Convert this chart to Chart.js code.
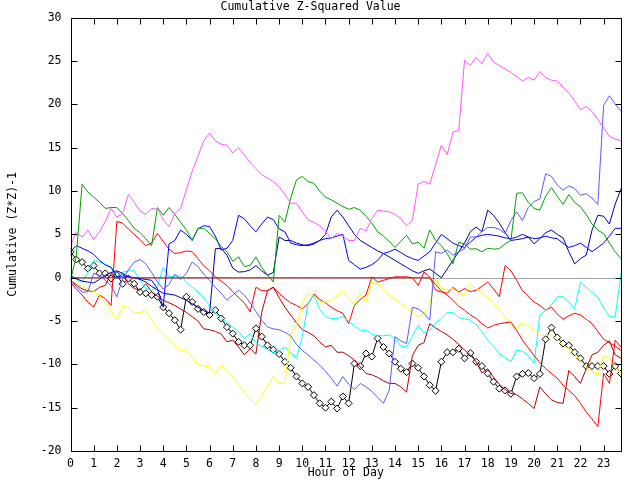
<!DOCTYPE html>
<html>
<head>
<meta charset="utf-8">
<title>Cumulative Z-Squared Value</title>
<script src="https://cdn.jsdelivr.net/npm/chart.js@4.4.1/dist/chart.umd.min.js"></script>
<style>
  html, body { margin: 0; padding: 0; background: #ffffff; }
  #chart { display: block; }
</style>
</head>
<body>
<canvas id="chart" width="640" height="480"></canvas>
<script>
// every series is sampled every 15 minutes
const HOURS = [0, 0.25, 0.5, 0.75, 1, 1.25, 1.5, 1.75, 2, 2.25, 2.5, 2.75, 3, 3.25, 3.5, 3.75,
    4, 4.25, 4.5, 4.75, 5, 5.25, 5.5, 5.75, 6, 6.25, 6.5, 6.75, 7, 7.25, 7.5, 7.75,
    8, 8.25, 8.5, 8.75, 9, 9.25, 9.5, 9.75, 10, 10.25, 10.5, 10.75, 11, 11.25, 11.5, 11.75,
    12, 12.25, 12.5, 12.75, 13, 13.25, 13.5, 13.75, 14, 14.25, 14.5, 14.75, 15, 15.25, 15.5, 15.75,
    16, 16.25, 16.5, 16.75, 17, 17.25, 17.5, 17.75, 18, 18.25, 18.5, 18.75, 19, 19.25, 19.5, 19.75,
    20, 20.25, 20.5, 20.75, 21, 21.25, 21.5, 21.75, 22, 22.25, 22.5, 22.75, 23, 23.25, 23.5, 23.75];

const X_TICKS = [0, 1, 2, 3, 4, 5, 6, 7, 8, 9, 10, 11, 12, 13, 14, 15, 16, 17, 18, 19, 20, 21, 22, 23];
const Y_TICKS = [-20, -15, -10, -5, 0, 5, 10, 15, 20, 25, 30];

const magenta = [3.7, 5.3, 4.7, 5.5, 4.4, 5.3, 6.5, 8.0, 7.0, 7.4, 9.6, 8.7, 7.7, 7.3, 8.0, 7.9,
    6.7, 5.9, 7.4, 8.0, 10.2, 12.3, 14.0, 15.8, 16.7, 15.8, 15.4, 15.3, 14.4, 15.0, 14.2, 13.3,
    12.6, 11.9, 11.5, 11.1, 10.5, 9.6, 8.6, 8.6, 7.6, 6.7, 6.4, 6.0, 5.4, 4.5, 5.1, 4.8,
    4.3, 4.3, 5.7, 5.4, 6.8, 7.8, 7.7, 7.6, 7.3, 6.8, 6.0, 6.6, 10.8, 11.1, 10.8, 13.0,
    15.3, 14.2, 16.8, 17.0, 25.1, 24.5, 25.4, 24.7, 25.9, 24.9, 24.5, 24.1, 23.7, 23.2, 22.7, 23.1,
    22.8, 23.8, 23.1, 22.8, 22.7, 22.0, 21.3, 20.4, 19.4, 19.75, 19.2, 18.3, 17.3, 16.3, 16.0, 15.8];
const green = [-0.3, 2.5, 10.8, 9.9, 9.3, 8.7, 8.0, 8.1, 8.1, 7.4, 6.6, 5.7, 5.2, 4.5, 3.7, 8.1,
    7.2, 8.1, 7.3, 6.4, 5.5, 4.3, 5.7, 5.7, 5.1, 4.5, 3.6, 3.0, 1.9, 2.4, 1.3, 1.4,
    2.4, 1.2, 0.3, -0.5, 7.2, 6.4, 9.2, 11.3, 11.7, 11.1, 10.9, 10.0, 9.3, 9.0, 8.6, 8.2,
    7.9, 8.1, 7.8, 7.1, 6.3, 5.3, 4.8, 4.2, 3.5, 4.2, 4.9, 3.9, 4.1, 3.4, 5.5, 4.3,
    3.7, 2.8, 1.6, 4.1, 3.9, 3.3, 3.35, 3.0, 3.4, 3.3, 3.35, 3.9, 4.3, 9.75, 9.8, 8.7,
    8.0, 7.8, 9.4, 10.4, 9.4, 8.45, 9.6, 8.7, 8.2, 7.3, 6.2, 5.5, 5.1, 4.0, 3.0, 2.2];
const periwinkle = [-0.3, -1.0, -1.65, -1.65, 0.5, 0.3, -0.3, -0.9, -2.2, -0.1, 0.9, 1.8, 2.1, 1.6, 0.6, -0.5,
    -1.3, -0.8, 0.4, -0.2, 0.5, 1.8, 1.3, 0.4, -0.3, -1.1, -1.8, -2.6, -2.0, -1.45, -2.0, -2.9,
    -3.9, -4.9, -5.7, -5.9, -6.0, -6.3, -6.7, -7.7, -8.4, -8.9, -9.5, -10.1, -10.8, -11.6, -12.5, -11.4,
    -12.3, -12.9, -12.2, -12.6, -13.1, -13.8, -14.5, -13.0, -6.8, -7.3, -7.6, -3.4, -3.6, -4.1, -4.9, 3.0,
    2.8, 3.2, 2.6, 3.0, 3.35, 4.7, 4.7, 5.3, 5.8, 5.8, 5.6, 5.1, 6.6, 7.6, 6.6, 8.1,
    8.8, 9.1, 12.0, 11.7, 10.7, 10.1, 10.6, 10.3, 9.5, 9.7, 9.2, 8.45, 19.9, 21.0, 20.05, 19.2];
const blue = [3.0, 3.7, 3.4, 3.1, 2.7, 2.0, 1.5, 1.2, 0.1, 0.2, 0.1, 0.0, -0.1, -0.2, -0.3, -1.25,
    -3.4, 3.9, 4.3, 5.5, 5.0, 4.3, 5.65, 6.0, 5.9, 4.8, 3.2, 3.4, 4.3, 7.2, 6.8, 6.0,
    5.3, 6.2, 7.0, 6.7, 5.65, 5.3, 4.0, 3.8, 3.7, 3.8, 4.0, 4.3, 4.5, 4.6, 4.8, 5.0,
    2.0, 1.5, 1.0, 1.2, 1.5, 2.0, 2.8, 3.0, 3.3, 2.9, 2.5, 2.2, 2.0, 2.5, 3.0, 4.0,
    5.0, 4.5, 4.0, 3.7, 3.5, 4.1, 4.7, 4.9, 5.0, 4.9, 4.8, 4.6, 4.5, 4.7, 5.0, 4.7,
    4.5, 4.6, 4.8, 4.6, 4.5, 4.0, 3.5, 3.7, 4.0, 3.5, 3.0, 3.5, 4.0, 4.8, 5.7, 5.7];
const navy = [0.2, -0.1, -0.4, -0.5, -0.6, -0.2, 0.3, 0.6, 0.8, 0.5, 0.1, 0.0, -0.2, -0.5, -1.0, -1.4,
    -1.8, -1.9, -2.0, -2.3, -2.6, -3.0, -3.4, -3.8, -4.1, 3.35, 3.4, 2.6, 1.1, 0.65, 0.7, 0.9,
    1.4, 0.8, 0.3, 0.6, 4.7, 4.3, 4.3, 4.0, 3.8, 3.7, 3.9, 4.3, 5.0, 7.0, 7.8, 7.0,
    6.0, 5.0, 4.3, 3.9, 3.5, 3.1, 2.8, 2.4, 2.0, 1.6, 1.2, 0.8, 0.5, 0.8, 1.0, 0.5,
    0.0, 1.0, 2.0, 3.0, 4.0, 5.3, 5.85, 5.3, 7.8, 7.2, 6.3, 5.2, 4.3, 4.4, 4.5, 4.7,
    3.9, 4.5, 5.2, 5.5, 5.0, 4.6, 3.0, 1.6, 2.2, 2.6, 5.5, 7.2, 7.1, 6.2, 8.5, 10.25];
const yellow = [-0.3, -0.6, -1.0, -1.3, -1.6, -2.0, -2.9, -3.9, -4.9, -3.3, -3.4, -4.1, -4.0, -3.8, -4.9, -5.8,
    -6.5, -7.1, -7.8, -8.4, -8.3, -9.2, -10.0, -10.2, -10.3, -11.05, -10.1, -10.7, -11.4, -12.3, -13.3, -14.0,
    -14.7, -13.6, -12.5, -11.4, -12.2, -12.2, -6.5, -5.5, -3.0, -1.8, -2.2, -2.8, -2.8, -2.6, -2.1, -1.5,
    -2.3, -3.1, -1.8, -2.8, -0.5, -0.7, -1.3, -2.0, -2.5, -3.0, -3.4, -4.0, -4.5, -4.1, -3.3, -0.1,
    -1.2, -1.45, -1.2, -1.8, -2.0, -0.7, -1.3, -1.8, -2.3, -2.9, -3.7, -4.5, -5.4, -5.8, -5.2, -5.6,
    -6.0, -6.6, -6.7, -6.6, -7.2, -7.8, -8.2, -8.75, -9.6, -10.4, -10.8, -11.25, -9.0, -9.3, -10.2, -11.05];
const cyan = [0.3, -0.2, -0.5, 0.6, 2.0, 1.8, 1.5, 1.2, -0.1, 0.65, 0.8, 0.8, -0.3, -1.2, -1.45, -1.0,
    1.2, 0.1, 0.2, 0.2, -0.5, -1.1, -1.6, -2.3, -3.2, -4.1, -4.7, -5.2, -5.7, -6.2, -7.0, -6.5,
    -7.5, -7.9, -8.3, -8.7, -8.4, -8.0, -8.7, -9.3, -6.8, -3.0, -2.0, -3.6, -4.5, -4.7, -4.7, -4.5,
    -5.0, -5.6, -6.05, -6.05, -6.5, -6.7, -6.7, -6.6, -7.0, -7.9, -8.0, -6.8, -5.5, -6.4, -6.1, -5.2,
    -4.7, -4.0, -4.0, -4.6, -4.75, -4.9, -5.4, -6.2, -7.2, -7.9, -8.8, -9.2, -9.7, -8.35, -8.5, -9.0,
    -9.9, -4.3, -3.8, -3.1, -2.2, -2.2, -2.8, -3.6, -0.5, -1.1, -1.7, -2.2, -3.5, -4.5, -4.5, 0.5];
const redFlat = [0, 0, 0, 0, 0, 0, 0, 0, 0, 0, 0, 0, 0, 0, 0, 0,
    0, 0, 0, 0, 0, 0, 0, 0, 0, 0, 0, 0, 0, 0, 0, 0,
    0, 0, 0, 0, 0, 0, 0, 0, 0, 0, 0, 0, 0, 0, 0, 0,
    0, 0, 0, 0, 0, 0, 0, 0, 0, 0, 0, 0, 0, 0, 0, -0.8,
    -1.5, -2.0, -2.6, -3.3, -3.75, -4.3, -4.7, -5.3, -5.8, -5.5, -5.3, -5.2, -5.1, -6.1, -7.2, -8.1,
    -9.0, -9.8, -10.5, -11.05, -11.6, -12.4, -13.0, -13.6, -14.5, -15.5, -16.3, -17.2, -11.05, -12.2, -7.2, -8.0];
const red = [-0.5, -1.3, -2.0, -2.8, -3.4, -2.0, -2.4, -3.2, 6.5, 6.3, 5.6, 5.0, 4.4, 3.7, 4.0, 5.1,
    4.2, 3.3, 2.8, 2.9, 3.1, 3.0, 2.2, 1.4, 0.8, 0.1, -0.4, -0.9, -1.6, -2.3, -2.9, -3.95,
    -1.1, -1.5, -1.5, -1.1, -1.8, -2.4, -2.9, -3.2, -3.6, -3.0, -1.9, -2.5, -2.9, -3.4, -3.8, -4.1,
    -5.3, -3.2, -2.5, -2.0, 0.1, -0.5, -0.3, -0.1, 0.1, 0.1, 0.1, 0.0, -0.9, 0.65, 0.1, -1.4,
    -1.65, -1.8, -1.1, -1.65, -1.25, -1.6, -1.45, -1.0, -0.5, -1.3, -2.2, 1.4, 0.8, -0.3, -1.5, -2.1,
    -2.8, -3.2, -3.75, -3.4, -4.2, -4.8, -4.4, -4.1, -4.3, -4.8, -5.3, -6.2, -7.1, -7.5, -7.9, -8.4];
const darkRed = [-0.3, -0.8, -1.3, -1.5, -1.6, -1.1, -0.9, 0.5, 0.1, 0.5, -0.7, -1.25, -1.45, -0.7, -1.65, -2.1,
    -2.6, -2.9, -3.2, -3.6, -4.0, -4.5, -5.0, -5.9, -6.0, -6.2, -6.5, -7.4, -7.2, -8.0, -8.9, -8.2,
    -8.8, -4.0, -1.5, -1.1, -2.3, -3.4, -4.3, -5.2, -6.0, -6.3, -6.7, -7.4, -8.0, -7.8, -8.6, -8.6,
    -9.0, -9.5, -10.3, -11.05, -11.2, -11.5, -11.9, -12.2, -12.2, -12.6, -13.2, -9.0, -7.8, -7.5, -5.3, -5.8,
    -6.2, -6.6, -7.1, -7.7, -8.35, -8.9, -9.7, -11.0, -10.5, -11.5, -12.3, -12.9, -13.35, -13.5, -14.0, -14.5,
    -15.1, -12.6, -13.4, -14.1, -14.4, -14.5, -10.7, -11.4, -12.2, -10.5, -8.9, -8.6, -7.8, -7.3, -8.9, -9.3];
const black = [3.0, 2.1, 1.8, 1.05, 1.4, 0.5, 0.5, -0.1, 0.3, -0.7, -0.1, -0.7, -1.65, -1.8, -2.0, -2.2,
    -3.4, -4.1, -4.9, -6.0, -2.2, -2.8, -3.6, -3.95, -4.3, -3.75, -4.7, -5.7, -6.45, -7.4, -7.8, -7.8,
    -5.85, -6.8, -7.8, -8.3, -8.8, -9.7, -10.4, -11.4, -12.2, -12.6, -13.55, -14.5, -15.0, -14.3, -15.1, -13.7,
    -14.5, -9.9, -10.2, -8.75, -9.1, -7.0, -8.0, -8.75, -9.7, -10.5, -10.9, -9.9, -10.4, -11.4, -12.4, -13.05,
    -9.7, -8.6, -8.6, -8.2, -9.3, -8.7, -9.7, -10.2, -11.05, -12.0, -12.8, -13.0, -13.4, -11.4, -11.1, -11.0,
    -11.6, -11.1, -7.1, -5.75, -6.9, -7.6, -7.8, -8.6, -9.3, -10.2, -10.2, -10.2, -10.2, -11.1, -10.2, -11.05];

const FONT = { family: "'DejaVu Sans Mono', monospace", size: 11.5 };

function toPoints(ys) {
    return HOURS.map((x, i) => ({ x: x, y: ys[i] }));
}

function lineSet(label, ys, color) {
    return {
        label: label,
        data: toPoints(ys),
        borderColor: color,
        backgroundColor: color,
        borderWidth: 1,
        pointRadius: 0,
        tension: 0
    };
}

// zero line under the series, frame and inward tick marks on all four sides
const framePlugin = {
    id: "frame",
    beforeDatasetsDraw(chart) {
        const { ctx, chartArea: a, scales: { y } } = chart;
        const y0 = Math.round(y.getPixelForValue(0)) + 0.5;
        ctx.save();
        ctx.strokeStyle = "#a8a8a8";
        ctx.lineWidth = 1;
        ctx.beginPath();
        ctx.moveTo(a.left, y0);
        ctx.lineTo(a.right, y0);
        ctx.stroke();
        ctx.restore();
    },
    afterDatasetsDraw(chart) {
        const { ctx, chartArea: a, scales: { x, y } } = chart;
        const len = 6;
        const l = Math.round(a.left) + 0.5, r = Math.round(a.right) + 0.5;
        const t = Math.round(a.top) + 0.5, b = Math.round(a.bottom) + 0.5;
        ctx.save();
        ctx.strokeStyle = "#000000";
        ctx.lineWidth = 1;
        ctx.beginPath();
        X_TICKS.forEach(v => {
            const px = Math.round(x.getPixelForValue(v)) + 0.5;
            ctx.moveTo(px, b);
            ctx.lineTo(px, b - len);
            ctx.moveTo(px, t);
            ctx.lineTo(px, t + len);
        });
        Y_TICKS.forEach(v => {
            const py = Math.round(y.getPixelForValue(v)) + 0.5;
            ctx.moveTo(l, py);
            ctx.lineTo(l + len, py);
            ctx.moveTo(r, py);
            ctx.lineTo(r - len, py);
        });
        ctx.rect(l, t, r - l, b - t);
        ctx.stroke();
        ctx.restore();
    }
};

const blackSet = {
    label: "black",
    data: toPoints(black),
    borderColor: "#000000",
    backgroundColor: "#ffffff",
    borderWidth: 1,
    pointStyle: "rectRot",
    pointRadius: 3.5,
    pointBorderColor: "#000000",
    pointBackgroundColor: "#ffffff",
    pointBorderWidth: 1,
    tension: 0
};

new Chart(document.getElementById("chart"), {
    type: "line",
    data: {
        datasets: [
            lineSet("flat", redFlat, "#ff0000"),
            lineSet("magenta", magenta, "#ff55ff"),
            lineSet("green", green, "#00a000"),
            lineSet("periwinkle", periwinkle, "#5a5aff"),
            lineSet("blue", blue, "#0000ff"),
            lineSet("navy", navy, "#0000a0"),
            lineSet("yellow", yellow, "#ffff00"),
            lineSet("cyan", cyan, "#00ffff"),
            lineSet("darkred", darkRed, "#b00000"),
            lineSet("red", red, "#ff0000"),
            blackSet
        ]
    },
    options: {
        responsive: false,
        animation: false,
        devicePixelRatio: 1,
        layout: { padding: { left: 0, right: 19, top: 0, bottom: 0 } },
        plugins: {
            legend: { display: false },
            tooltip: { enabled: false },
            title: {
                display: true,
                text: "Cumulative Z-Squared Value",
                color: "#000000",
                font: { family: FONT.family, size: FONT.size, weight: "normal" },
                padding: { top: 0, bottom: 4 }
            }
        },
        scales: {
            x: {
                type: "linear",
                min: 0,
                max: 23.75,
                grid: { display: false, drawTicks: false },
                border: { display: false },
                afterBuildTicks(scale) {
                    scale.ticks = X_TICKS.map(v => ({ value: v }));
                },
                afterFit(scale) {
                    scale.height = 29;
                },
                ticks: {
                    color: "#000000",
                    font: FONT,
                    padding: 6,
                    autoSkip: false,
                    maxRotation: 0
                },
                title: {
                    display: true,
                    text: "Hour of Day",
                    color: "#000000",
                    font: FONT,
                    padding: { top: 0, bottom: 0 }
                }
            },
            y: {
                min: -20,
                max: 30,
                grid: { display: false, drawTicks: false },
                border: { display: false },
                afterBuildTicks(scale) {
                    scale.ticks = Y_TICKS.map(v => ({ value: v }));
                },
                afterFit(scale) {
                    scale.width = 70.5;
                },
                ticks: {
                    color: "#000000",
                    font: FONT,
                    padding: 9
                },
                title: {
                    display: true,
                    text: "Cumulative (Z*Z)-1",
                    color: "#000000",
                    font: FONT,
                    padding: { top: 6, bottom: 0 }
                }
            }
        }
    },
    plugins: [framePlugin]
});
</script>
</body>
</html>
